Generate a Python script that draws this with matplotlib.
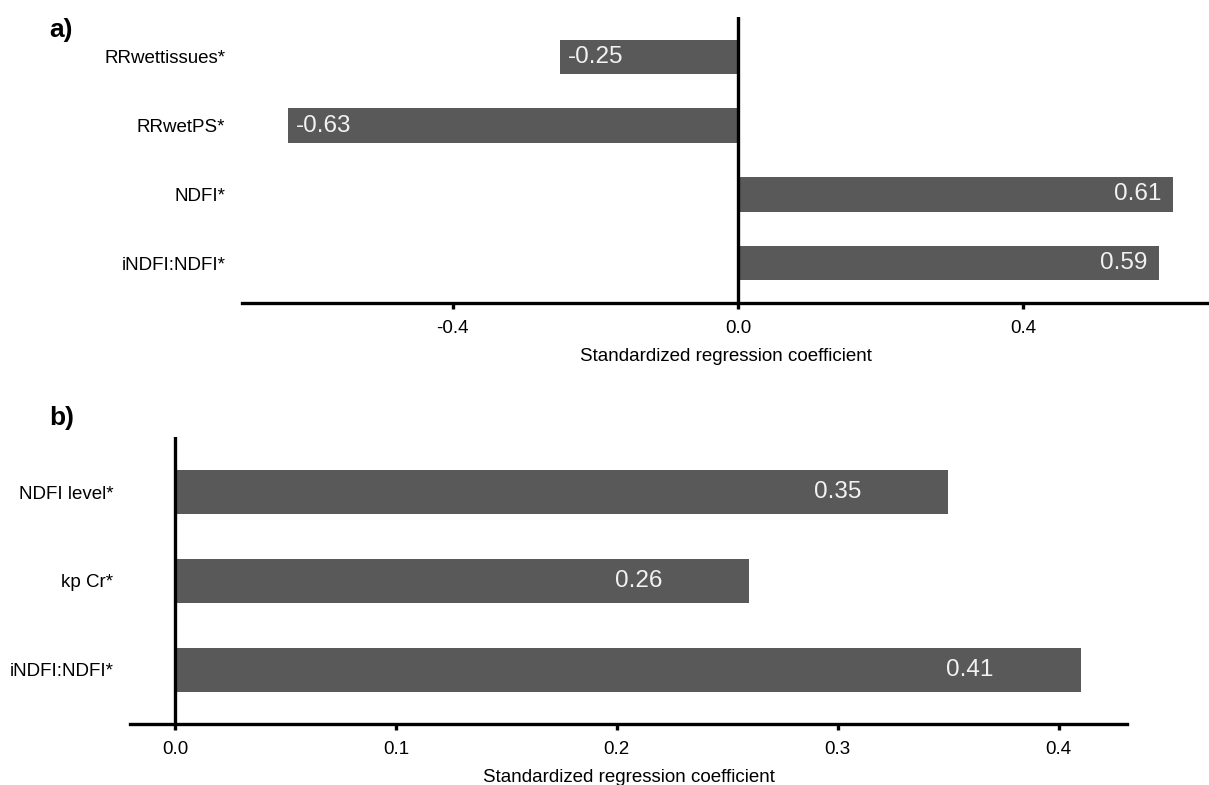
import matplotlib.pyplot as plt

plt.rcParams['font.family'] = ['Liberation Sans', 'DejaVu Sans']

# panel a
vars_a = ['RRwettissues*', 'RRwetPS*', 'NDFI*', 'iNDFI:NDFI*']
coef_a = [-0.25, -0.63, 0.61, 0.59]
ticks_a = [-0.4, 0.0, 0.4]

# panel b
vars_b = ['NDFI level*', 'kp Cr*', 'iNDFI:NDFI*']
coef_b = [0.35, 0.26, 0.41]
ticks_b = [0.0, 0.1, 0.2, 0.3, 0.4]

bar_col = '#595959'
W, H = 1209, 785


def px_axes(fig, x0, y0, x1, y1):
    return fig.add_axes([x0 / W, 1 - y1 / H, (x1 - x0) / W, (y1 - y0) / H])


def coef_panel(ax, names, vals, ticks, xlim, ylim):
    pos = list(range(len(names)))
    ax.barh(pos, vals, height=0.5, color=bar_col, zorder=2)
    ax.axvline(0, color='black', lw=2.4, zorder=3)
    for p, v in zip(pos, vals):
        ax.text(v - 0.05 * (1 if v > 0 else -1), p, f'{v:.2f}', color='#f2f2f2',
                ha='center', va='center', fontsize=17.5, zorder=4)
    ax.set_xlim(*xlim)
    ax.set_ylim(*ylim)
    ax.set_yticks(pos)
    ax.set_yticklabels(names, fontsize=13.5)
    ax.set_xticks(ticks)
    ax.set_xticklabels([f'{t:.1f}' for t in ticks], fontsize=13.5)
    ax.set_xlabel('Standardized regression coefficient', fontsize=13.5, labelpad=8)
    for s in ['top', 'right', 'left']:
        ax.spines[s].set_visible(False)
    ax.spines['bottom'].set_linewidth(2.4)
    ax.tick_params(axis='y', length=0, pad=12)
    ax.tick_params(axis='x', length=4, width=2.4, pad=8)
    ax.patch.set_visible(False)


fig = plt.figure(figsize=(W / 100, H / 100), dpi=100)

ax1 = px_axes(fig, 242, 17, 1209, 303)
coef_panel(ax1, vars_a, coef_a, ticks_a, (-0.695, 0.66), (3.58, -0.58))

ax2 = px_axes(fig, 130, 437, 1127, 724)
coef_panel(ax2, vars_b, coef_b, ticks_b, (-0.0204, 0.431), (2.61, -0.62))

fig.text(49 / W, 1 - 30 / H, 'a)', fontsize=19, fontweight='bold', va='center')
fig.text(49 / W, 1 - 418 / H, 'b)', fontsize=19, fontweight='bold', va='center')

fig.savefig('out.png', dpi=100)
